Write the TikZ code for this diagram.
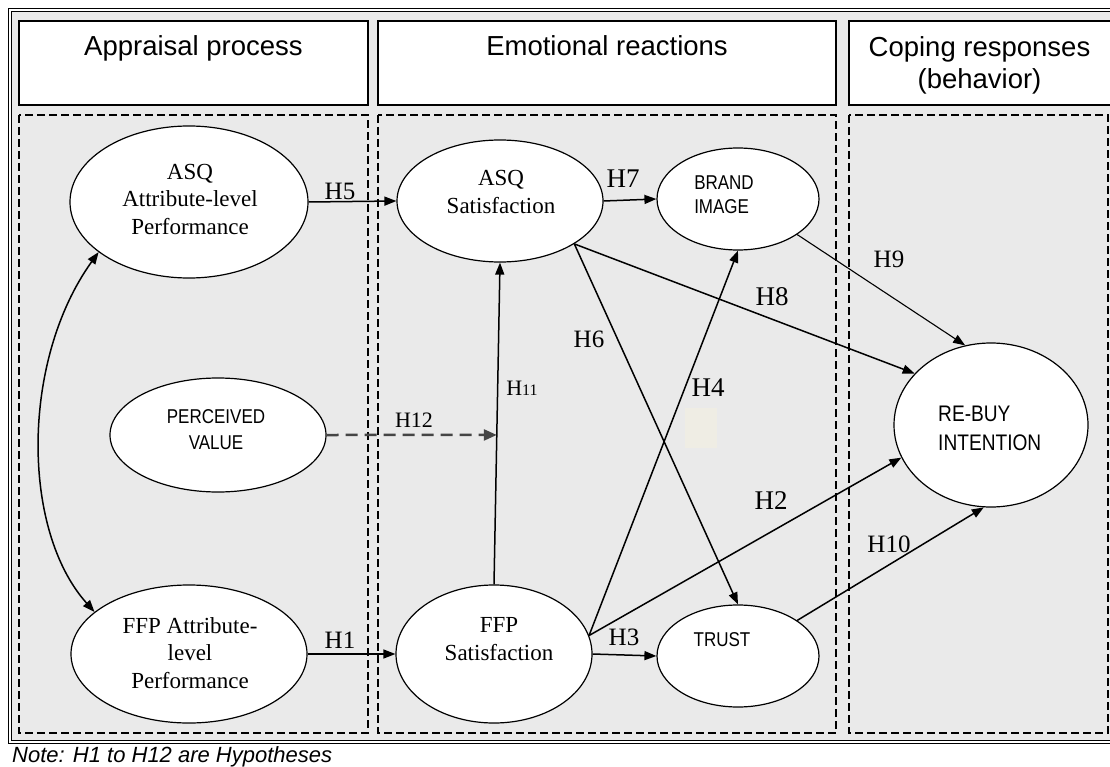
\documentclass[tikz,border=0pt]{standalone}
\usepackage{fontspec}
\setmainfont{Liberation Serif}
\newfontfamily\hsans{Liberation Sans}
\newfontfamily\nsans[FakeStretch=0.85]{Liberation Sans}
\usetikzlibrary{arrows.meta,shapes.geometric,calc}
\definecolor{bg}{HTML}{EAEAEA}
\definecolor{patch}{HTML}{EFEDE4}
\definecolor{dashgray}{HTML}{454545}

\begin{document}
\begin{tikzpicture}[x=1pt,y=-1pt,
  ell/.style={ellipse,draw,fill=white,line width=1.2pt,inner sep=0pt},
  hdr/.style={draw,fill=white,line width=2.4pt},
  panel/.style={draw,line width=2pt,dash pattern=on 8pt off 4pt},
  hdrtxt/.style={font=\hsans\fontsize{27.5}{32}\selectfont,align=center,inner sep=0pt},
  sertxt/.style={font=\fontsize{23}{27.5}\selectfont,align=center,inner sep=0pt},
  captxt/.style={font=\nsans\fontsize{20}{25}\selectfont,align=center,inner sep=0pt},
  hyp/.style={font=\fontsize{25}{25}\selectfont,inner sep=0pt},
  hypbig/.style={font=\fontsize{27}{27}\selectfont,inner sep=0pt},
  conn/.style={line width=1.5pt,-{Triangle[length=12pt,width=9pt]}},
  dconn/.style={line width=2.5pt,dashgray,dash pattern=on 12pt off 7pt,
    -{Triangle[length=13pt,width=11pt]}}
]
\useasboundingbox (0,0) rectangle (1110,767);

% outer frame and background
\draw[line width=1pt,double,double distance=1.2pt,fill=bg] (10,10) rectangle (1114,742);

% dashed panels
\draw[panel] (19,115) rectangle (368,733);
\draw[panel] (378,115) rectangle (836,733);
\draw[panel,line width=1.5pt] (849,115) rectangle (1108,733);

% column headers
\draw[hdr] (19,21) rectangle (368,105);
\draw[hdr] (378,21) rectangle (836,105);
\draw[hdr] (849,21) rectangle (1114,105);
\node[hdrtxt,anchor=base] (hdrA) at (193.5,56) {Appraisal process};
\node[hdrtxt,anchor=base] (hdrE) at (607,56) {Emotional reactions};
\node[hdrtxt] (hdrC) at (979.5,65) {Coping responses\\(behavior)};

% small patch
\fill[patch] (685,408) rectangle (717,448);

% constructs
\node[ell,minimum width=238pt,minimum height=152pt] (asqattr) at (189,202) {};
\node[ell,minimum width=216pt,minimum height=114pt] (pv) at (218,435) {};
\node[ell,minimum width=236pt,minimum height=138pt] (ffpattr) at (189,654) {};
\node[ell,minimum width=206pt,minimum height=122pt] (asqsat) at (500,201) {};
\node[ell,minimum width=162pt,minimum height=102pt] (brand) at (738,199) {};
\node[ell,minimum width=196pt,minimum height=138pt] (ffpsat) at (494,654) {};
\node[ell,minimum width=162pt,minimum height=102pt] (trust) at (738,656) {};
\node[ell,minimum width=194pt,minimum height=164pt] (rebuy) at (991,425) {};

% construct labels
\node[sertxt] (tasqattr) at (190,199) {ASQ\\Attribute-level\\Performance};
\node[sertxt] (tffpattr) at (190,653) {FFP Attribute-\\level\\Performance};
\node[sertxt] (tasqsat) at (501,192) {ASQ\\Satisfaction};
\node[sertxt] (tffpsat) at (499,639) {FFP\\Satisfaction};
\node[captxt,font=\nsans\fontsize{20}{26}\selectfont] (tpv) at (216,430) {PERCEIVED\\VALUE};
\node[captxt,align=left,font=\nsans\fontsize{20}{24}\selectfont] (tbrand) at (724,195) {BRAND\\IMAGE};
\node[captxt] (ttrust) at (722,640) {TRUST};
\node[captxt,align=left,anchor=west,font=\nsans\fontsize{22.5}{29}\selectfont] (trebuy) at (938,428) {RE-BUY\\INTENTION};

% hypothesised paths
\draw[conn] (asqattr.east) -- (asqsat.west);
\draw[conn] (ffpattr.east) -- (ffpsat.west);
\draw[line width=1.5pt,{Triangle[length=12pt,width=9pt]}-{Triangle[length=12pt,width=9pt]}]
  (asqattr.209) .. controls (21,360) and (21,530) .. (ffpattr.156);
\draw[conn] (asqsat.east) -- (brand.west);
\draw[conn] (asqsat.-30) -- (rebuy.146);
\draw[conn] (asqsat.-30) -- (trust.north);
\draw[conn] (ffpsat.north) -- (asqsat.south);
\coordinate (h12end) at ($(ffpsat.north)!0.4644!(asqsat.south)$);
\draw[dconn] (pv.east) -- (h12end);
\draw[conn] (ffpsat.11) -- (brand.south);
\draw[conn] (ffpsat.11) -- (rebuy.200);
\draw[conn] (ffpsat.east) -- (trust.west);
\draw[conn,line width=1.1pt] (brand.-31) -- (rebuy.108);
\draw[conn] (trust.31) -- (rebuy.265);

% hypothesis labels
\node[hyp] (lH5) at (340,191) {H5};
\node[hyp] (lH1) at (340,640) {H1};
\node[hypbig] (lH7) at (623,179) {H7};
\node[hypbig] (lH8) at (772,297) {H8};
\node[hyp] (lH6) at (589,339) {H6};
\node[font=\fontsize{22}{22}\selectfont,inner sep=0pt] (lH11) at (522,388) {H{\fontsize{16}{16}\selectfont 11}};
\node[font=\fontsize{22}{22}\selectfont,inner sep=0pt] (lH12) at (414,420) {H12};
\node[hypbig] (lH4) at (708,388) {H4};
\node[hypbig] (lH2) at (771,501) {H2};
\node[hyp] (lH9) at (889,259) {H9};
\node[hyp] (lH10) at (889,544) {H10};
\node[hyp] (lH3) at (624,637) {H3};

% footnote
\node[font=\hsans\itshape\fontsize{22}{22}\selectfont,anchor=base west,inner sep=0pt] (note) at (12,762) {Note: H1 to H12 are Hypotheses};
\end{tikzpicture}
\end{document}
